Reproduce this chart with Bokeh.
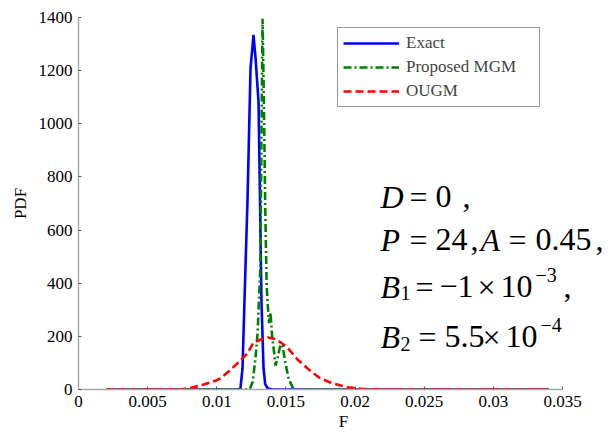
from bokeh.plotting import figure
from bokeh.models import Range1d, FixedTicker, Label, Legend, LegendItem
from bokeh.embed import file_html
from bokeh.resources import INLINE

# ---- data ----
exact_x = [0.0020, 0.0100, 0.0115, 0.01171, 0.01186, 0.0120, 0.01222, 0.01244, 0.0126,
           0.01265, 0.0128, 0.01302, 0.0131, 0.01323, 0.01338, 0.0135, 0.01367, 0.0140,
           0.0200, 0.0340]
exact_y = [0, 0, 0, 3, 80, 330, 710, 1210, 1300,
           1335, 1250, 1080, 800, 335, 80, 20, 5, 0,
           0, 0]

mgm_x = [0.0020, 0.0120, 0.0124, 0.0126, 0.0128, 0.01295, 0.01315, 0.01322, 0.01331,
         0.0134, 0.0135, 0.0136, 0.01367, 0.01378, 0.01388, 0.0140, 0.01412, 0.01425,
         0.0144, 0.01461, 0.01475, 0.0150, 0.0152, 0.01548, 0.0158, 0.0340]
mgm_y = [0, 0, 2, 30, 120, 211, 459, 900, 1395,
         1100, 700, 400, 330, 250, 290, 200, 150, 90,
         120, 170, 165, 90, 40, 8, 0, 0]

ougm_x = [0.0020, 0.0060, 0.0075, 0.0083, 0.0090, 0.0100, 0.01027, 0.0109, 0.01171,
          0.0122, 0.01265, 0.0132, 0.0137, 0.0142, 0.0146, 0.01511, 0.0158, 0.01656,
          0.0174, 0.01822, 0.01945, 0.0205, 0.0220, 0.0340]
ougm_y = [0, 0, 1, 8, 18, 35, 42, 70, 109,
          135, 177, 188, 196, 190, 178, 158, 115, 79,
          45, 26, 8, 2, 0, 0]

x_ticks = [0, 0.005, 0.01, 0.015, 0.02, 0.025, 0.03, 0.035]
x_tick_labels = ["0", "0.005", "0.01", "0.015", "0.02", "0.025", "0.03", "0.035"]
y_ticks = [0, 200, 400, 600, 800, 1000, 1200, 1400]

series_names = ["Exact", "Proposed MGM", "OUGM"]

FONT = "Liberation Serif"
PX_PER_X = 13829.0  # pixels per data unit along x (frame 485 px for 0.035)
PX_PER_Y = 372.0 / 1400.0

p = figure(width=608, height=434, output_backend="svg", toolbar_location=None,
           x_range=Range1d(0, (608 - 78) / PX_PER_X), y_range=Range1d(0, 1400),
           min_border_left=78, min_border_right=0, min_border_top=17, min_border_bottom=45)
p.outline_line_color = None
p.xgrid.visible = False
p.ygrid.visible = False
p.background_fill_color = "white"
p.border_fill_color = "white"

r1 = p.line(exact_x, exact_y, line_color="#0000ff", line_width=2.6)
r2 = p.line(mgm_x, mgm_y, line_color="#008000", line_width=2.6, line_dash="8 3 2 3")
r3 = p.line(ougm_x, ougm_y, line_color="#ff0000", line_width=2.6, line_dash="8 4")

for ax in (p.xaxis[0], p.yaxis[0]):
    ax.axis_line_color = "#aaaaaa"
    ax.axis_line_width = 1.5
    ax.major_tick_in = 3
    ax.major_tick_out = 0
    ax.major_tick_line_color = "#555555"
    ax.minor_tick_line_color = None
    ax.major_label_text_font = FONT
    ax.major_label_text_font_size = "17px"
    ax.major_label_text_color = "black"
    ax.axis_label_text_font = FONT
    ax.axis_label_text_font_size = "17px"
    ax.axis_label_text_font_style = "normal"
    ax.axis_label_text_color = "black"

p.xaxis.bounds = (0, 0.035)
p.xaxis.ticker = FixedTicker(ticks=x_ticks)
p.xaxis.major_label_overrides = {t: l for t, l in zip(x_ticks, x_tick_labels)}
p.yaxis.ticker = FixedTicker(ticks=y_ticks)
p.xaxis.axis_label = "F"
p.yaxis.axis_label = "PDF"
p.xaxis.major_label_standoff = 6
p.xaxis.axis_label_standoff = 2
p.yaxis.major_label_standoff = 6
p.yaxis.axis_label_standoff = 6

legend = Legend(items=[LegendItem(label=series_names[0], renderers=[r1]),
                       LegendItem(label=series_names[1], renderers=[r2]),
                       LegendItem(label=series_names[2], renderers=[r3])],
                location=(259, 282), glyph_width=56, glyph_height=18, label_height=18,
                spacing=4, padding=5, margin=0, label_standoff=7, label_width=128,
                label_text_font=FONT, label_text_font_style="normal",
                label_text_font_size="17px",
                border_line_color="#333333", border_line_width=1,
                background_fill_alpha=1.0)
p.add_layout(legend)

# ---- parameter annotation (math-style text, one token per label) ----
X0 = (380 - 78) / PX_PER_X   # left edge of the annotation block


def baseline(py):
    # pixel row of the text baseline -> data y (with the renderer's baseline shift)
    return (389 - (py - 11)) / PX_PER_Y


def math_line(tokens, y0):
    # tokens: (text, style, size, dy_px, x_px)
    for text, style, size, dy, xo in tokens:
        p.add_layout(Label(x=X0, y=y0, x_offset=xo, y_offset=dy, text=text,
                           text_font=FONT, text_font_style=style,
                           text_font_size=f"{size}px", text_baseline="alphabetic",
                           text_align="left", text_color="black"))


math_line([("D", "italic", 32, 0, 0), ("=", "normal", 32, 0, 29),
           ("0", "normal", 32, 0, 55), (",", "normal", 32, 0, 82)], baseline(207))
math_line([("P", "italic", 32, 0, 0), ("=", "normal", 32, 0, 29),
           ("24", "normal", 32, 0, 55), (",", "normal", 32, 0, 90),
           ("A", "italic", 32, 0, 100), ("=", "normal", 32, 0, 128),
           ("0.45", "normal", 32, 0, 155), (",", "normal", 32, 0, 215)], baseline(250))
math_line([("B", "italic", 32, 0, 0), ("1", "normal", 20, -6, 20),
           ("=", "normal", 32, 0, 35), ("\u22121", "normal", 32, 0, 59),
           ("\u00d7", "normal", 32, 0, 97), ("10", "normal", 32, 0, 120),
           ("\u22123", "normal", 20, 12, 155), (",", "normal", 32, 0, 183)], baseline(297))
math_line([("B", "italic", 32, 0, 0), ("2", "normal", 20, -7, 20),
           ("=", "normal", 32, 0, 38), ("5.5", "normal", 32, 0, 64),
           ("\u00d7", "normal", 32, 0, 102), ("10", "normal", 32, 0, 125),
           ("\u22124", "normal", 20, 12, 160)], baseline(347))

open("out.html", "w").write(file_html(p, INLINE))
